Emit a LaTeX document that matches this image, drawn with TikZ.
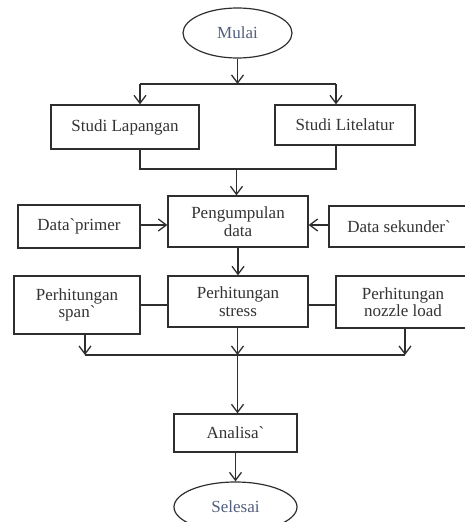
\documentclass[tikz,border=0pt]{standalone}
\usepackage{fontspec}
\setmainfont{Liberation Serif}
\usetikzlibrary{shapes.geometric,arrows.meta}
\definecolor{ln}{HTML}{2E2E2E}
\definecolor{tx}{HTML}{333333}
\definecolor{tb}{HTML}{52607E}
\begin{document}
\begin{tikzpicture}[x=1pt,y=-1pt,
  every node/.style={font=\fontsize{17}{17.5}\selectfont, text=tx, align=center, inner sep=0pt},
  box/.style={draw=ln, line width=1.3pt, rectangle},
  oval/.style={draw=ln, line width=1.2pt, ellipse, text=tb},
  ln/.style={draw=ln, line width=1.3pt},
  arr/.style={ln, -{Straight Barb[length=8pt,width=12pt,line width=1.3pt]}}]
\useasboundingbox (0,0) rectangle (465,522);
\clip (0,0) rectangle (465,522);
\node[oval, minimum width=109pt, minimum height=50pt] (mulai) at (237.5,33) {Mulai};
\node[box, minimum width=148pt, minimum height=44pt] (lap) at (125,127) {Studi Lapangan};
\node[box, minimum width=140pt, minimum height=40pt] (lit) at (345,125) {Studi Litelatur};
\node[box, minimum width=140pt, minimum height=51pt] (peng) at (238,221.5) {Pengumpulan\\data};
\node[box, minimum width=122pt, minimum height=43pt] (prim) at (79,226.5) {Data\textasciigrave primer};
\node[box, minimum width=140pt, minimum height=41pt] (sek) at (399,226.5) {Data sekunder\textasciigrave};
\node[box, minimum width=126pt, minimum height=58pt] (span) at (77,305) {Perhitungan\\span\textasciigrave};
\node[box, minimum width=140pt, minimum height=51pt] (stress) at (238,301.5) {Perhitungan\\stress};
\node[box, minimum width=134pt, minimum height=52pt] (nozzle) at (403,302) {Perhitungan\\nozzle load};
\node[box, minimum width=123pt, minimum height=38pt] (anal) at (235.5,433) {Analisa\textasciigrave};
\node[oval, minimum width=123pt, minimum height=50pt] (sel) at (235.5,507) {Selesai};
\coordinate (j1) at (237.5,84);
\coordinate (jL) at (140,84);
\coordinate (jR) at (336,84);
\coordinate (j2) at (236.5,169);
\coordinate (jS) at (85,355);
\coordinate (j3) at (237.5,355);
\coordinate (jN) at (405,355);
\draw[arr] (mulai.south) -- (j1);
\draw[ln] (jL) -- (jR);
\draw[arr] (jL) -- (jL |- lap.north);
\draw[arr] (jR) -- (jR |- lit.north);
\draw[ln] (lap.south -| jL) |- (j2) -| (lit.south -| jR);
\draw[arr] (j2) -- (j2 |- peng.north);
\draw[arr] (prim.east |- 0,225) -- (peng.west |- 0,225);
\draw[arr] (sek.west |- 0,225) -- (peng.east |- 0,225);
\draw[arr] (peng.south) -- (stress.north);
\draw[ln] (span.east) -- (stress.west |- span.east);
\draw[ln] (stress.east |- span.east) -- (nozzle.west |- span.east);
\draw[arr] (span.south -| jS) -- (jS);
\draw[arr] (stress.south -| j3) -- (j3);
\draw[arr] (nozzle.south -| jN) -- (jN);
\draw[ln] (jS) -- (jN);
\draw[arr] (j3) -- (j3 |- anal.north);
\draw[arr] (anal.south) -- (sel.north);
\end{tikzpicture}
\end{document}
